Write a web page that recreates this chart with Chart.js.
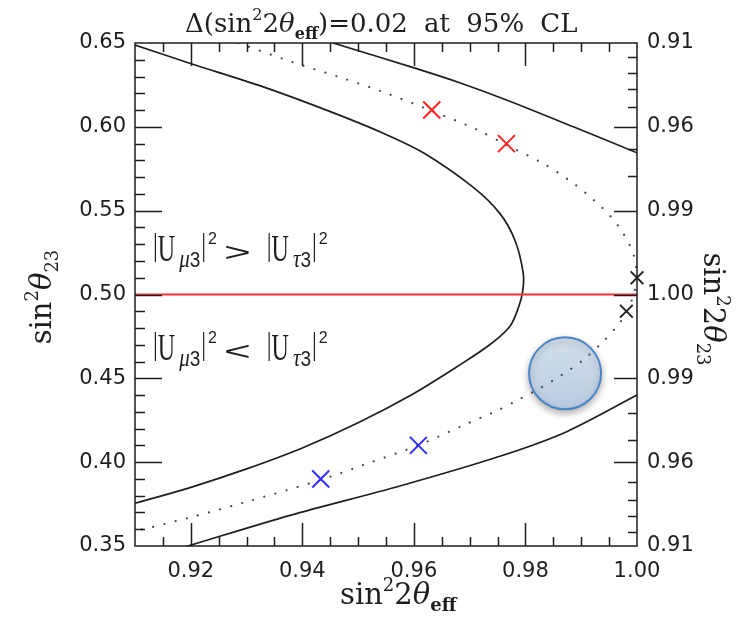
<!DOCTYPE html>
<html>
<head>
<meta charset="utf-8">
<title>sin²θ23 versus sin²2θeff</title>
<script src="https://cdn.jsdelivr.net/npm/chart.js@4.4.0/dist/chart.umd.min.js"></script>
<style>
  html, body { margin: 0; padding: 0; background: #fff; }
  #wrap { width: 739px; height: 621px; }
</style>
</head>
<body>
<div id="wrap"><canvas id="octantChart" width="739" height="621"></canvas></div>
<script>
// Axis ranges and tick labels
const xRange = [0.91, 1.00];
const yRange = [0.35, 0.65];
const xTickValues = [0.92, 0.94, 0.96, 0.98, 1.00];
const yTickValues = [0.35, 0.40, 0.45, 0.50, 0.55, 0.60, 0.65];
const rightTickLabels = ['0.91', '0.96', '0.99', '1.00', '0.99', '0.96', '0.91'];
const rightMinorValues = [0.92, 0.93, 0.94, 0.95, 0.97, 0.98];

// Inner boundary (solid)
const innerX = [0.9100, 0.9202, 0.9330, 0.9449, 0.9545, 0.9617, 0.9706, 0.9754, 0.9781, 0.9796, 0.9795, 0.9787, 0.9772, 0.9736, 0.9680, 0.9600, 0.9500, 0.9400, 0.9300, 0.9200, 0.9100];
const innerY = [0.6488, 0.6375, 0.6238, 0.6092, 0.5962, 0.5845, 0.5640, 0.5484, 0.5325, 0.5127, 0.5017, 0.4918, 0.4809, 0.4700, 0.4575, 0.4410, 0.4235, 0.4085, 0.3960, 0.3850, 0.3755];

// Outer boundary, upper and lower branches (solid)
const outerTopX = [0.9455, 0.9599, 0.9682, 0.9766, 0.9886, 1.0000];
const outerTopY = [0.6500, 0.6353, 0.6263, 0.6160, 0.6000, 0.5845];
const outerBottomX = [0.9181, 0.9199, 0.9378, 0.9575, 0.9754, 0.9874, 1.0000];
const outerBottomY = [0.3486, 0.3504, 0.3683, 0.3858, 0.4035, 0.4182, 0.4400];

// Central curve (dotted)
const dotX = [0.9285, 0.9381, 0.9464, 0.9548, 0.9632, 0.9712, 0.9766, 0.9831, 0.9886, 0.9937, 0.9966, 0.9988, 0.9996, 1.0000, 0.9994, 0.9981, 0.9965, 0.9935, 0.9902, 0.9865, 0.9828, 0.9789, 0.9749, 0.9688, 0.9608, 0.9509, 0.9433, 0.9291, 0.9204, 0.9121, 0.9100];
const dotY = [0.6500, 0.6387, 0.6299, 0.6204, 0.6095, 0.5985, 0.5892, 0.5783, 0.5663, 0.5520, 0.5411, 0.5289, 0.5210, 0.5100, 0.5000, 0.4892, 0.4814, 0.4705, 0.4606, 0.4520, 0.4445, 0.4375, 0.4307, 0.4219, 0.4101, 0.3983, 0.3894, 0.3755, 0.3675, 0.3605, 0.3590];

// Marked points
const redX = [0.9632, 0.9766];
const redY = [0.61, 0.59];
const blackX = [1.0000, 0.9981];
const blackY = [0.51, 0.49];
const blueX = [0.9608, 0.9433];
const blueY = [0.41, 0.39];

// Maximal mixing line and highlighted spot
const maxMixX = [0.91, 1.00];
const maxMixY = [0.50, 0.50];
const spotX = [0.9871];
const spotY = [0.453];

const pairs = (xs, ys) => xs.map((x, i) => ({ x: x, y: ys[i] }));

const INK = '#1e1e1e';
const curveStyle = { showLine: true, borderColor: INK, borderWidth: 1.7, pointRadius: 0, tension: 0.3, fill: false };
const crossStyle = { showLine: false, pointStyle: 'crossRot', pointBorderWidth: 2, clip: false };

const datasets = [
    { label: 'red', data: pairs(redX, redY), ...crossStyle, pointRadius: 12, borderColor: '#ff2222', pointBorderColor: '#ff2222' },
    { label: 'blue', data: pairs(blueX, blueY), ...crossStyle, pointRadius: 12, borderColor: '#2f2fff', pointBorderColor: '#2f2fff' },
    { label: 'black', data: pairs(blackX, blackY), ...crossStyle, pointRadius: 9, borderColor: '#222', pointBorderColor: '#222' },
    { label: 'maxmix', data: pairs(maxMixX, maxMixY), showLine: true, borderColor: '#ff3030', borderWidth: 2, pointRadius: 0 },
    { label: 'dotted', data: pairs(dotX, dotY), showLine: true, borderColor: '#4a4a4a', borderWidth: 2.2,
      borderDash: [0.01, 11.5], borderCapStyle: 'round', pointRadius: 0, tension: 0.3 },
    { label: 'inner', data: pairs(innerX, innerY), ...curveStyle },
    { label: 'outerTop', data: pairs(outerTopX, outerTopY), ...curveStyle },
    { label: 'outerBottom', data: pairs(outerBottomX, outerBottomY), ...curveStyle },
    { label: 'spot', data: pairs(spotX, spotY), showLine: false, order: 10, pointRadius: 36,
      pointBorderWidth: 2, pointBorderColor: '#4a86c6',
      pointBackgroundColor: (c) => {
          const chart = c.chart;
          if (!chart.chartArea) return '#c4d4e6';
          const py = chart.scales.y.getPixelForValue(spotY[0]);
          const g = chart.ctx.createLinearGradient(0, py - 36, 0, py + 36);
          g.addColorStop(0, '#d3dfec');
          g.addColorStop(1, '#b9cbe0');
          return g;
      } }
];

// Soft shadow under the highlighted spot
const spotShadow = {
    id: 'spotShadow',
    beforeDatasetDraw(chart, args) {
        if (chart.data.datasets[args.index].label !== 'spot') return;
        const ctx = chart.ctx;
        ctx.save();
        ctx.shadowColor = 'rgba(0,0,0,0.3)';
        ctx.shadowBlur = 7;
        ctx.shadowOffsetY = 3;
    },
    afterDatasetDraw(chart, args) {
        if (chart.data.datasets[args.index].label !== 'spot') return;
        chart.ctx.restore();
    }
};

// Box frame with inward ticks on all four sides
const frameTicks = {
    id: 'frameTicks',
    afterDatasetsDraw(chart) {
        const { ctx, chartArea: a, scales: { x, y } } = chart;
        ctx.save();
        ctx.strokeStyle = INK;
        ctx.lineWidth = 1.5;
        ctx.strokeRect(a.left, a.top, a.right - a.left, a.bottom - a.top);
        ctx.beginPath();
        for (let i = 1; i < 18; i++) {
            const px = Math.round(x.getPixelForValue(xRange[0] + i * 0.005)) + 0.5;
            const len = (i - 2) % 4 === 0 ? 23 : 9;
            ctx.moveTo(px, a.bottom); ctx.lineTo(px, a.bottom - len);
            ctx.moveTo(px, a.top); ctx.lineTo(px, a.top + len);
        }
        for (let i = 1; i < 30; i++) {
            const py = Math.round(y.getPixelForValue(yRange[0] + i * 0.01)) + 0.5;
            const len = i % 5 === 0 ? 27 : 10;
            ctx.moveTo(a.left, py); ctx.lineTo(a.left + len, py);
        }
        yTickValues.slice(1, -1).forEach(v => {
            const py = Math.round(y.getPixelForValue(v)) + 0.5;
            ctx.moveTo(a.right, py); ctx.lineTo(a.right - 23, py);
        });
        // right side: sin^2(2 theta23) minor marks, one on each octant
        rightMinorValues.forEach(v => {
            const r = Math.sqrt(1 - v) / 2;
            [0.5 - r, 0.5 + r].forEach(s => {
                const py = Math.round(y.getPixelForValue(s)) + 0.5;
                ctx.moveTo(a.right, py); ctx.lineTo(a.right - 9, py);
            });
        });
        ctx.stroke();
        ctx.restore();
    }
};

// Text made of runs with their own font, offset and stretch
function runsWidth(ctx, runs) {
    let w = 0;
    runs.forEach(r => {
        ctx.font = r.f;
        w += (r.dx || 0) + ctx.measureText(r.t).width * (r.sx || 1);
    });
    return w;
}

function drawRuns(ctx, runs, x, y) {
    let cx = x;
    runs.forEach(r => {
        ctx.font = r.f;
        cx += r.dx || 0;
        const w = ctx.measureText(r.t).width * (r.sx || 1);
        ctx.save();
        ctx.translate(cx, y + (r.dy || 0));
        ctx.scale(r.sx || 1, r.sy || 1);
        ctx.fillText(r.t, 0, 0);
        ctx.restore();
        cx += w;
    });
}

const SERIF = '26px "DejaVu Serif"';
const SERIF_I = 'italic 26px "DejaVu Serif"';
const SMALL = '16px "DejaVu Serif"';
const SMALL_B = 'bold 16px "DejaVu Serif"';
const AXIS = '29px "DejaVu Serif"';
const AXIS_I = 'italic 29px "DejaVu Serif"';
const AXIS_S = '18px "DejaVu Serif"';
const AXIS_SB = 'bold 18px "DejaVu Serif"';

function ordering(sign) {
    const big = '24px "Liberation Serif"';
    const bar = { t: '|', f: big, sy: 1.35, dy: -6 };
    return [
        bar,
        { t: 'U', f: big, sy: 1.6 },
        { t: 'μ', f: 'italic 21px "Liberation Serif"', dx: 4, dy: 6, sy: 1.15 },
        { t: '3', f: '19px "Liberation Sans"', dy: 6, sy: 1.15 },
        { ...bar, dx: 1 },
        { t: '2', f: '16px "Liberation Sans"', dx: 2, dy: -17 },
        { t: sign, f: '20px "Liberation Sans"', dx: 7, sx: 2.3, sy: 1.3 },
        { ...bar, dx: 16 },
        { t: 'U', f: big, sy: 1.6 },
        { t: 'τ', f: 'italic 21px "Liberation Serif"', dx: 4, dy: 6, sy: 1.15 },
        { t: '3', f: '19px "Liberation Sans"', dy: 6, sy: 1.15 },
        { ...bar, dx: 1 },
        { t: '2', f: '16px "Liberation Sans"', dx: 2, dy: -17 }
    ];
}

const axisTitles = {
    id: 'axisTitles',
    afterDraw(chart) {
        const ctx = chart.ctx;
        ctx.save();
        ctx.fillStyle = INK;
        ctx.textBaseline = 'alphabetic';
        ctx.textAlign = 'left';

        // heading
        ctx.save();
        if ('wordSpacing' in ctx) ctx.wordSpacing = '8px';
        drawRuns(ctx, [
            { t: 'Δ(sin', f: SERIF },
            { t: '2', f: SMALL, dy: -12 },
            { t: '2', f: SERIF },
            { t: 'θ', f: SERIF_I },
            { t: 'eff', f: SMALL_B, dy: 7 },
            { t: ')=0.02 at 95% CL', f: SERIF }
        ], 185, 32);
        ctx.restore();

        // bottom axis
        drawRuns(ctx, [
            { t: 'sin', f: AXIS },
            { t: '2', f: AXIS_S, dy: -13 },
            { t: '2', f: AXIS },
            { t: 'θ', f: AXIS_I },
            { t: 'eff', f: AXIS_SB, dy: 7 }
        ], 340, 604);

        // left axis
        const left = [
            { t: 'sin', f: AXIS },
            { t: '2', f: AXIS_S, dy: -13 },
            { t: 'θ', f: AXIS_I },
            { t: '23', f: AXIS_S, dy: 7 }
        ];
        ctx.save();
        ctx.translate(51, 297);
        ctx.rotate(-Math.PI / 2);
        drawRuns(ctx, left, -runsWidth(ctx, left) / 2, 0);
        ctx.restore();

        // right axis
        const right = [
            { t: 'sin', f: AXIS },
            { t: '2', f: AXIS_S, dy: -13 },
            { t: '2', f: AXIS },
            { t: 'θ', f: AXIS_I },
            { t: '23', f: AXIS_S, dy: 7 }
        ];
        ctx.save();
        ctx.translate(704, 309);
        ctx.rotate(Math.PI / 2);
        drawRuns(ctx, right, -runsWidth(ctx, right) / 2, 0);
        ctx.restore();

        // octant labels
        drawRuns(ctx, ordering('>'), 153, 261);
        drawRuns(ctx, ordering('<'), 153, 360);
        ctx.restore();
    }
};

const tickFont = { family: 'DejaVu Sans', size: 21 };

new Chart(document.getElementById('octantChart'), {
    type: 'scatter',
    data: { datasets: datasets },
    options: {
        responsive: false,
        animation: false,
        layout: { padding: { top: 43, left: 0, right: 0, bottom: 0 } },
        plugins: { legend: { display: false }, tooltip: { enabled: false }, title: { display: false } },
        scales: {
            x: {
                type: 'linear', min: xRange[0], max: xRange[1],
                grid: { display: false, drawTicks: false }, border: { display: false },
                afterBuildTicks: (s) => { s.ticks = xTickValues.map(v => ({ value: v })); },
                afterFit: (s) => { s.height = 75; },
                ticks: { font: tickFont, color: INK, padding: 13, maxRotation: 0, autoSkip: false,
                         callback: (v) => Number(v).toFixed(2) }
            },
            y: {
                type: 'linear', position: 'left', min: yRange[0], max: yRange[1],
                grid: { display: false, drawTicks: false }, border: { display: false },
                afterBuildTicks: (s) => { s.ticks = yTickValues.map(v => ({ value: v })); },
                afterFit: (s) => { s.width = 135; },
                ticks: { font: tickFont, color: INK, padding: 9, autoSkip: false,
                         callback: (v) => Number(v).toFixed(2) }
            },
            y2: {
                type: 'linear', position: 'right', min: yRange[0], max: yRange[1],
                grid: { display: false, drawTicks: false }, border: { display: false },
                afterBuildTicks: (s) => { s.ticks = yTickValues.map(v => ({ value: v })); },
                afterFit: (s) => { s.width = 102; },
                ticks: { font: tickFont, color: INK, padding: 10, autoSkip: false,
                         callback: (v, i) => rightTickLabels[i] }
            }
        }
    },
    plugins: [spotShadow, frameTicks, axisTitles]
});
</script>
</body>
</html>
